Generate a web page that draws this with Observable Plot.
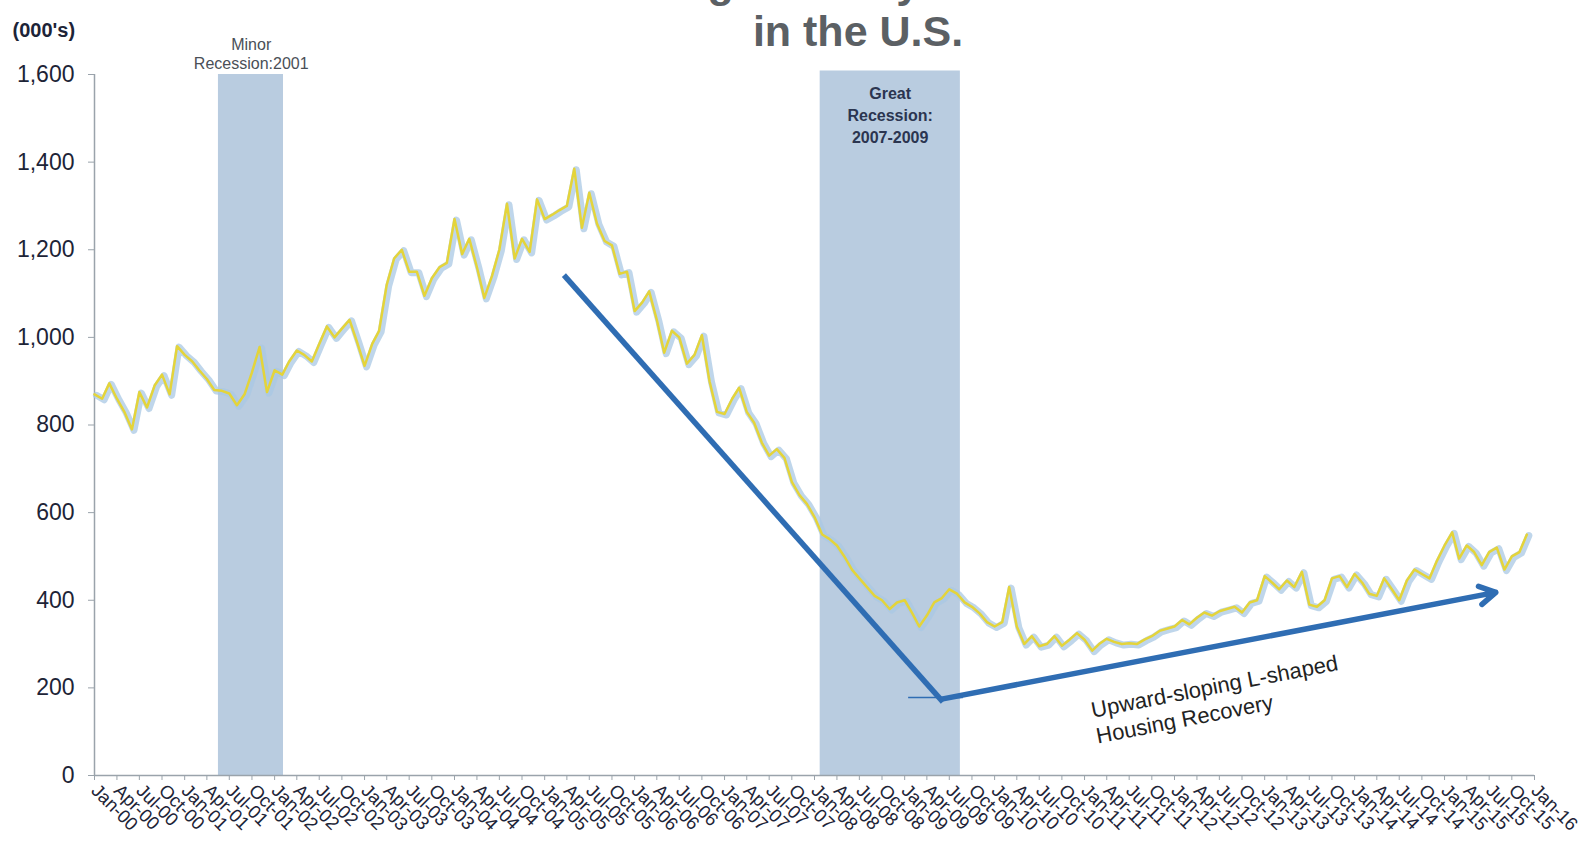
<!DOCTYPE html>
<html><head><meta charset="utf-8">
<script src="https://cdn.jsdelivr.net/npm/d3@7"></script>
<script src="https://cdn.jsdelivr.net/npm/@observablehq/plot@0.6"></script>
<style>
html,body{margin:0;padding:0;background:#fff;}
#wrap{position:relative;width:1582px;height:856px;overflow:hidden;background:#fff;}
#chart{position:absolute;left:0;top:0;}
#title{position:absolute;top:-42px;left:858px;transform:translateX(-50%);text-align:center;font:bold 43px/49px "Liberation Sans",Arial,sans-serif;color:#5b6064;white-space:nowrap;}
#title .hl{color:#f0a032;}
</style></head>
<body><div id="wrap"><div id="chart"></div><div id="title">New Single-Family <span class="hl">Home Sales</span><br>in the U.S.</div></div>
<script>
// Monthly new single-family home sales (000's, annual rate), Jan-00 .. Dec-15
const sales2000 = [870, 860, 895, 860, 830, 790, 875, 840, 890, 915, 870, 980];
const sales2001 = [960, 945, 925, 905, 880, 878, 872, 845, 870, 920, 978, 875];
const sales2002 = [925, 915, 945, 970, 960, 945, 985, 1025, 1000, 1020, 1040, 990];
const sales2003 = [935, 985, 1015, 1120, 1180, 1200, 1150, 1150, 1095, 1135, 1160, 1170];
const sales2004 = [1270, 1190, 1225, 1160, 1090, 1140, 1200, 1305, 1180, 1225, 1195, 1315];
const sales2005 = [1270, 1280, 1290, 1300, 1385, 1250, 1330, 1260, 1220, 1210, 1145, 1150];
const sales2006 = [1060, 1080, 1105, 1040, 965, 1015, 1000, 940, 960, 1005, 900, 830];
const sales2007 = [825, 860, 885, 830, 805, 760, 730, 745, 725, 670, 640, 620];
const sales2008 = [590, 550, 540, 525, 500, 470, 450, 430, 410, 400, 380, 395];
const sales2009 = [400, 370, 340, 365, 395, 405, 425, 415, 395, 385, 370, 350];
const sales2010 = [340, 350, 430, 340, 300, 318, 295, 300, 318, 296, 310, 325];
const sales2011 = [310, 285, 300, 312, 305, 300, 302, 300, 310, 318, 330, 335];
const sales2012 = [340, 355, 345, 360, 372, 365, 375, 380, 385, 372, 395, 400];
const sales2013 = [455, 440, 425, 445, 430, 465, 390, 385, 400, 450, 455, 430];
const sales2014 = [460, 440, 415, 410, 450, 425, 400, 445, 470, 460, 450, 490];
const sales2015 = [525, 555, 495, 525, 510, 480, 510, 520, 470, 500, 510, 550];

const yTicks = [0, 200, 400, 600, 800, 1000, 1200, 1400, 1600];
const axisStart = "2000-01-01";
const axisEnd = "2016-01-01";

const recessions = [
  {name: "Minor", start: "2001-05-18", end: "2002-02-06", top: 1600},
  {name: "Great", start: "2008-01-24", end: "2009-08-15", top: 1608}
];
const minorLabel = [{text: "Minor\nRecession:2001", date: "2001-09-28", value: 1612}];
const greatLabel = [{text: "Great\nRecession:\n2007-2009", date: "2008-11-03", value: 1578}];
const trendDown = [{x1: "2005-03-20", y1: 1142, x2: "2009-06-05", y2: 168}];
const trendUp = [{x1: "2009-06-05", y1: 175, x2: "2015-07-28", y2: 418}];
const trendFoot = [{x1: "2009-01-15", x2: "2009-08-25", y: 178}];
const recoveryNote = [{text: "Upward-sloping L-shaped\nHousing Recovery", date: "2011-01-20", value: 174}];
const unitLabel = ["(000's)"];

const FONT = '"Liberation Sans Narrow","Liberation Sans",Arial,sans-serif';
const allSales = [sales2000, sales2001, sales2002, sales2003, sales2004, sales2005, sales2006, sales2007,
  sales2008, sales2009, sales2010, sales2011, sales2012, sales2013, sales2014, sales2015].flat();
const series = allSales.map((v, i) => ({date: new Date(Date.UTC(2000, i, 1)), value: v}));
const d0 = new Date(axisStart), d1 = new Date(axisEnd);
const quarterTicks = d3.utcMonth.every(3).range(d0, new Date(d1.getTime() + 86400000));
const D = s => new Date(s);

const chart = Plot.plot({
  width: 1582, height: 856,
  marginLeft: 94, marginRight: 48, marginTop: 74, marginBottom: 81,
  style: {fontFamily: FONT, background: "transparent", color: "#1d2437", overflow: "visible"},
  x: {type: "utc", domain: [d0, d1]},
  y: {domain: [0, 1600]},
  marks: [
    Plot.rect(recessions, {x1: d => D(d.start), x2: d => D(d.end), y1: 0, y2: "top", fill: "#b9cce0"}),
    Plot.ruleX([d0], {stroke: "#9aa3ab", strokeWidth: 1.5}),
    Plot.ruleY([0], {stroke: "#9aa3ab", strokeWidth: 1.5}),
    Plot.axisY({ticks: yTicks, tickFormat: d3.format(","), tickSize: 6, tickPadding: 14, fontSize: 23, stroke: "#9aa3ab", fill: "#1d2437", label: null}),
    Plot.axisX({ticks: quarterTicks, tickFormat: d3.utcFormat("%b-%y"), tickRotate: 45, tickSize: 5, tickPadding: 7, fontSize: 18.5, stroke: "#9aa3ab", fill: "#1d2437", label: null}),
    Plot.line(series, {x: "date", y: "value", stroke: "#a9c8e4", strokeWidth: 7, strokeOpacity: 0.75, dx: 2, dy: 1}),
    Plot.line(series, {x: "date", y: "value", stroke: "#e4d43a", strokeWidth: 2.5}),
    Plot.link(trendDown, {x1: d => D(d.x1), y1: "y1", x2: d => D(d.x2), y2: "y2", stroke: "#2f6db3", strokeWidth: 5.5}),
    Plot.link(trendFoot, {x1: d => D(d.x1), x2: d => D(d.x2), y1: "y", y2: "y", stroke: "#2f6db3", strokeWidth: 1.5}),
    Plot.arrow(trendUp, {x1: d => D(d.x1), y1: "y1", x2: d => D(d.x2), y2: "y2", stroke: "#2f6db3", strokeWidth: 5.5, headLength: 5, headAngle: 60}),
    Plot.text(minorLabel, {x: d => D(d.date), y: "value", text: "text", lineAnchor: "bottom", fontSize: 16, lineHeight: 1.2, fill: "#4a4f57"}),
    Plot.text(greatLabel, {x: d => D(d.date), y: "value", text: "text", lineAnchor: "top", fontSize: 16, lineHeight: 1.35, fontWeight: "bold", fill: "#2b3550"}),
    Plot.text(recoveryNote, {x: d => D(d.date), y: "value", text: "text", textAnchor: "start", lineAnchor: "top", rotate: -11, fontSize: 22, lineHeight: 1.2, fill: "#222", fontFamily: '"Liberation Sans",Arial,sans-serif'}),
    Plot.text(unitLabel, {frameAnchor: "top-left", text: d => d, textAnchor: "start", dx: -82, dy: -52, fontSize: 20, fontWeight: "bold", fill: "#1d2437"})
  ]
});
document.getElementById("chart").appendChild(chart);
</script></body></html>
